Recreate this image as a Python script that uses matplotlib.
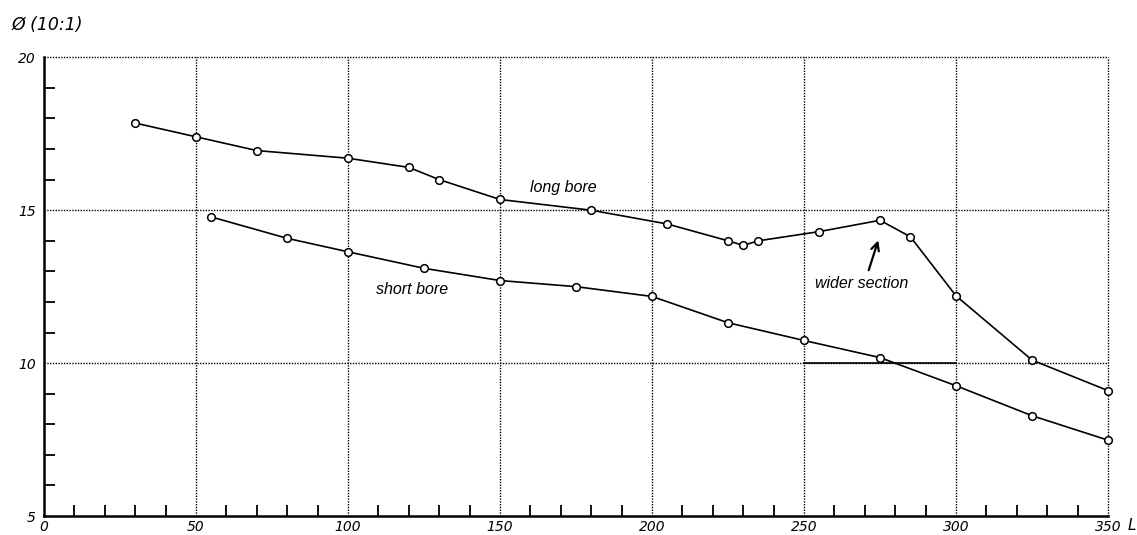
import matplotlib
matplotlib.use("Agg")
import matplotlib.pyplot as plt

# Data
long_x = [30, 50, 70, 100, 120, 130, 150, 180, 205, 225, 230, 235, 255, 275, 285, 300, 325, 350]
long_y = [17.85, 17.4, 16.95, 16.7, 16.4, 16.0, 15.35, 15.0, 14.55, 14.0, 13.85, 14.0, 14.3, 14.67, 14.13, 12.2, 10.1, 9.1]
short_x = [55, 80, 100, 125, 150, 175, 200, 225, 250, 275, 300, 325, 350]
short_y = [14.78, 14.08, 13.64, 13.1, 12.7, 12.5, 12.18, 11.32, 10.74, 10.18, 9.26, 8.28, 7.48]
ref_x = [250, 300]
ref_y = [10, 10]
major_x = [0, 50, 100, 150, 200, 250, 300, 350]
major_y = [5, 10, 15, 20]

fig = plt.figure(figsize=(11.37, 5.35), dpi=100)
ax = fig.add_axes([44/1137, 1-516/535, (1108-44)/1137, (516-57.3)/535])
ax.set_xlim(0, 350)
ax.set_ylim(5, 20)

# grid (dotted)
for gx in major_x[1:]:
    ax.axvline(gx, color='black', lw=1.0, ls=(0, (1, 1)), zorder=1, clip_on=False)
for gy in major_y[1:]:
    ax.axhline(gy, color='black', lw=1.0, ls=(0, (1, 1)), zorder=1, clip_on=False)

line_kw = dict(color='black', lw=1.2, marker='o', ms=5.5, mfc='white', mec='black', mew=1.1,
               zorder=3, clip_on=False)
ax.plot(long_x, long_y, **line_kw)
ax.plot(short_x, short_y, **line_kw)
ax.plot(ref_x, ref_y, color='black', lw=1.2, zorder=2)

for s in ['top', 'right']:
    ax.spines[s].set_visible(False)
for s in ['left', 'bottom']:
    ax.spines[s].set_linewidth(1.8)

ax.set_xticks(major_x)
ax.set_xticks(list(range(0, 351, 10)), minor=True)
ax.set_yticks(major_y)
ax.set_yticks(list(range(5, 21, 1)), minor=True)
ax.set_xticklabels([str(v) for v in major_x], fontstyle='italic', fontsize=10)
ax.set_yticklabels([str(v) for v in major_y], fontstyle='italic', fontsize=10)
ax.tick_params(axis='both', which='both', direction='in', width=1.3)
ax.tick_params(axis='x', which='major', length=0, pad=3)
ax.tick_params(axis='y', which='major', length=0, pad=6)
ax.tick_params(axis='both', which='minor', length=8)

tfont = dict(family='Liberation Sans', style='italic', fontsize=11.5)
ax.text(170.7, 15.75, 'long bore', ha='center', va='center', **tfont)
ax.text(121, 12.4, 'short bore', ha='center', va='center', **tfont)
ax.text(269, 12.6, 'wider section', ha='center', va='center', **tfont)
ax.annotate('', xy=(274.7, 14.1), xytext=(271, 12.95),
            arrowprops=dict(arrowstyle='->', color='black', lw=1.6, mutation_scale=14))

fig.text(12/1137, 1-25/535, 'Ø (10:1)', fontsize=12.5, style='italic', va='center', ha='left')
fig.text(1128/1137, 1-526/535, 'L', fontsize=11, style='italic', va='center', ha='left')

fig.savefig('out.png', dpi=100)
